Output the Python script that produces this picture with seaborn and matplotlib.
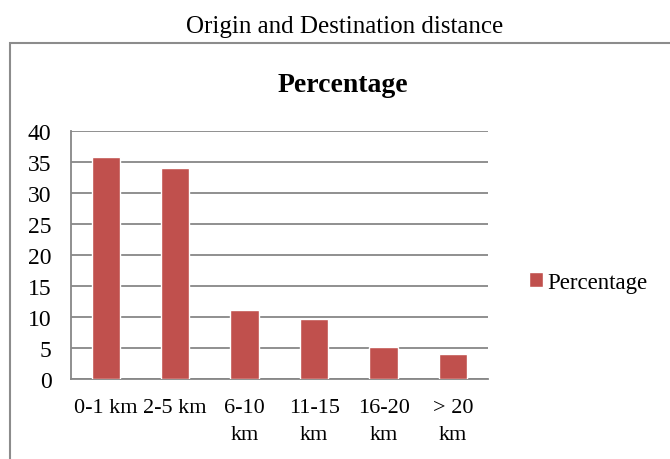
"""
Origin and Destination distance bar chart
"""

import pandas as pd
import seaborn as sns
import matplotlib.pyplot as plt
from matplotlib.patches import Rectangle

categories = ['0-1 km', '2-5 km', '6-10\nkm', '11-15\nkm', '16-20\nkm', '> 20\nkm']
percentage = [35.8, 34.0, 11.1, 9.6, 5.2, 4.1]
series_name = 'Percentage'

sns.set_style('white')
plt.rcParams['font.family'] = ['Liberation Serif', 'DejaVu Serif']
plt.rcParams['text.color'] = 'black'
plt.rcParams['xtick.labelcolor'] = 'black'
plt.rcParams['ytick.labelcolor'] = 'black'

data = pd.DataFrame({'distance': categories, 'value': percentage, 'series': series_name})

fig = plt.figure(figsize=(6.7, 4.6), dpi=100)
ax = fig.add_axes([0.106, 0.174, 0.622, 0.539])

grey = '#878787'
sns.barplot(x='distance', y='value', hue='series', data=data, palette=['#C0504D'],
            width=0.41, ax=ax, zorder=3, saturation=1)

ax.set_ylim(0, 40)
ax.set_xlim(-0.5, 5.5)
ax.set_yticks(range(0, 41, 5))
ax.yaxis.grid(True, color=grey, linewidth=1.3, zorder=0)
ax.set_axisbelow(True)
ax.set(xlabel='', ylabel='')

for side in ['top', 'right']:
    ax.spines[side].set_visible(False)
for side in ['left', 'bottom']:
    ax.spines[side].set_color(grey)
    ax.spines[side].set_linewidth(1.3)

# ticks between categories like the spreadsheet chart
ax.set_xticks([i - 0.5 for i in range(7)], minor=True)
ax.tick_params(axis='x', which='minor', length=4.5, color=grey, width=1.3, direction='out')
ax.tick_params(axis='x', which='major', length=0, labelsize=16, pad=14, labelcolor='black')
ax.tick_params(axis='y', length=6, color=grey, width=1.3, direction='out', labelsize=17, pad=8,
               labelcolor='black')
for lab in ax.get_xticklabels():
    lab.set_linespacing(1.55)

leg = ax.legend(loc='center left', bbox_to_anchor=(1.05, 0.39), frameon=False, fontsize=16.5,
                handlelength=0.6, handleheight=0.6, handletextpad=0.2)
for t in leg.get_texts():
    t.set_color('black')

fig.text(0.512, 0.815, 'Percentage', ha='center', va='center', fontsize=20,
         fontweight='bold', color='black')
fig.text(0.515, 0.941, 'Origin and Destination distance', ha='center', va='center',
         fontsize=18, color='black')
fig.patches.append(Rectangle((10 / 670, -0.1), 1.1, (460 - 44) / 460 + 0.1,
                             transform=fig.transFigure, fill=False,
                             edgecolor='#8c8c8c', linewidth=1.5))

plt.savefig('out.png', dpi=100)
